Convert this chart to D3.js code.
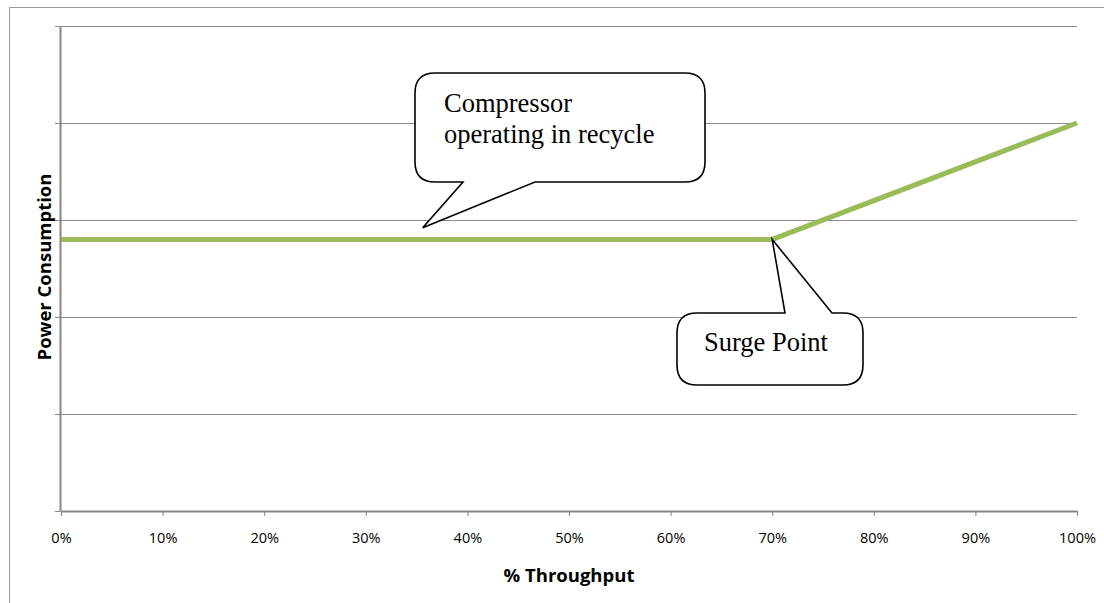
<!DOCTYPE html>
<html><head><meta charset="utf-8">
<script src="https://cdn.jsdelivr.net/npm/d3@7"></script>
<style>body{margin:0;background:#fff}svg{display:block}</style>
</head><body>
<script>
const throughput = [0, 0.7, 1.0];
const power = [2.8, 2.8, 4.0];
const xTickValues = [0,0.1,0.2,0.3,0.4,0.5,0.6,0.7,0.8,0.9,1.0];
const xTickLabels = ["0%","10%","20%","30%","40%","50%","60%","70%","80%","90%","100%"];
const yTickValues = [0,1,2,3,4,5];
const xTitle = "% Throughput";
const yTitle = "Power Consumption";
const calloutTexts = [["Compressor","operating in recycle"],["Surge Point"]];

const W=1104,H=603;
const svg=d3.select("body").append("svg").attr("width",W).attr("height",H);
svg.append("rect").attr("x",9.5).attr("y",7.5).attr("width",1200).attr("height",700)
  .attr("fill","none").attr("stroke","#9a9a9a").attr("stroke-width",1);

const x=d3.scaleLinear().domain([0,1]).range([61,1077]);
const y=d3.scaleLinear().domain([0,5]).range([511,26]);
const axisFont='"Open Sans", "Noto Sans", sans-serif';

// gridlines
svg.append("g").selectAll("line").data(yTickValues.filter(v=>v>0)).join("line")
  .attr("x1",55).attr("x2",x(1)).attr("y1",d=>Math.round(y(d))+0.5).attr("y2",d=>Math.round(y(d))+0.5)
  .attr("stroke","#8c8c8c").attr("stroke-width",1);

// y axis
const ya=svg.append("g").attr("transform","translate(60,0)")
  .call(d3.axisLeft(y).tickValues(yTickValues).tickFormat("").tickSize(5).tickSizeOuter(0));
ya.select(".domain").attr("stroke","#868686").attr("stroke-width",2);
ya.selectAll(".tick line").attr("stroke","#868686");

// x axis
const xa=svg.append("g").attr("transform","translate(0,511)")
  .call(d3.axisBottom(x).tickValues(xTickValues).tickFormat((d,i)=>xTickLabels[i]).tickSize(5).tickSizeOuter(0).tickPadding(17));
xa.select(".domain").attr("stroke","#868686").attr("stroke-width",2);
xa.selectAll(".tick line").attr("stroke","#868686");
xa.selectAll(".tick text").attr("font-family",axisFont).attr("font-size",14.5).attr("fill","#000");

// titles
svg.append("text").attr("x",(x(0)+x(1))/2).attr("y",582).attr("text-anchor","middle")
  .attr("font-family",axisFont).attr("font-weight","bold").attr("font-size",18.5).text(xTitle);
svg.append("text").attr("transform","translate(51,267) rotate(-90)").attr("text-anchor","middle")
  .attr("font-family",axisFont).attr("font-weight","bold").attr("font-size",18.5).text(yTitle);

// line
const pts=throughput.map((t,i)=>[t,power[i]]);
svg.append("path").datum(pts).attr("d",d3.line().x(d=>x(d[0])).y(d=>y(d[1])))
  .attr("fill","none").attr("stroke","#9bbb59").attr("stroke-width",5);

// callouts
function callout(x0,y0,x1,y1,r,side,a,b,tx,ty){
  const p=d3.path();
  p.moveTo(x0+r,y0);
  if(side==="top"){p.lineTo(a,y0);p.lineTo(tx,ty);p.lineTo(b,y0);}
  p.lineTo(x1-r,y0);p.quadraticCurveTo(x1,y0,x1,y0+r);
  p.lineTo(x1,y1-r);p.quadraticCurveTo(x1,y1,x1-r,y1);
  if(side==="bottom"){p.lineTo(b,y1);p.lineTo(tx,ty);p.lineTo(a,y1);}
  p.lineTo(x0+r,y1);p.quadraticCurveTo(x0,y1,x0,y1-r);
  p.lineTo(x0,y0+r);p.quadraticCurveTo(x0,y0,x0+r,y0);
  p.closePath();
  return p.toString();
}
const serif='"Liberation Serif","Times New Roman",serif';
const c1tip=[x(0.356), y(2.92)];
svg.append("path").attr("d",callout(415,73,705,182,20,"bottom",463,535,c1tip[0],c1tip[1]))
  .attr("fill","#fff").attr("stroke","#000").attr("stroke-width",1.6).attr("stroke-linejoin","miter");
calloutTexts[0].forEach((t,i)=>svg.append("text").attr("x",444).attr("y",112+i*31)
  .attr("font-family",serif).attr("font-size",26.5).attr("fill","#000").text(t));
const c2tip=[x(throughput[1]), y(power[1])];
svg.append("path").attr("d",callout(677,313,863,385,20,"top",785,832,c2tip[0],c2tip[1]))
  .attr("fill","#fff").attr("stroke","#000").attr("stroke-width",1.6);
svg.append("text").attr("x",704).attr("y",351).attr("font-family",serif).attr("font-size",26.5)
  .attr("fill","#000").text(calloutTexts[1][0]);
</script>
</body></html>
